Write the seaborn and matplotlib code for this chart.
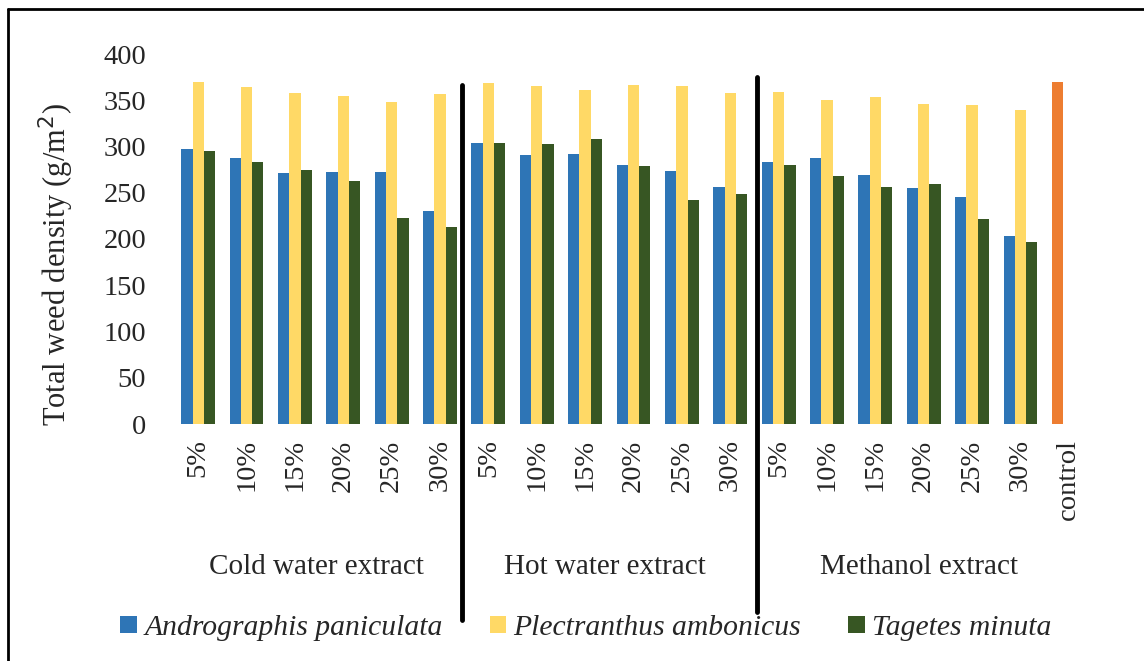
import matplotlib
matplotlib.use("Agg")
import matplotlib.pyplot as plt
import seaborn as sns
import pandas as pd
from matplotlib.patches import Patch
from matplotlib.lines import Line2D

# ---- data ----
groups = ["Cold water extract", "Hot water extract", "Methanol extract"]
levels = ["5%", "10%", "15%", "20%", "25%", "30%"]
species = ["Andrographis paniculata", "Plectranthus ambonicus", "Tagetes minuta"]

andrographis = [297, 288, 271, 272, 272, 230,
                304, 291, 292, 280, 274, 256,
                283, 288, 269, 255, 245, 203]
plectranthus = [370, 364, 358, 355, 348, 357,
                369, 365, 361, 367, 365, 358,
                359, 350, 353, 346, 345, 340]
tagetes = [295, 283, 275, 263, 223, 213,
           304, 303, 308, 279, 242, 249,
           280, 268, 256, 259, 222, 197]
control_value = 370
control_label = "control"

colors = ["#2E75B6", "#FFD966", "#375623"]
control_color = "#ED7D31"

# ---- build long table ----
keys = [f"{g}|{l}" for g in groups for l in levels] + [control_label]
tick_labels = levels * 3 + [control_label]
rows = []
for i, k in enumerate(keys[:-1]):
    rows.append((k, species[0], andrographis[i]))
    rows.append((k, species[1], plectranthus[i]))
    rows.append((k, species[2], tagetes[i]))
rows.append((control_label, species[0], control_value))
df = pd.DataFrame(rows, columns=["cat", "species", "value"])

sns.set_style("white")
plt.rcParams["font.family"] = ["Liberation Serif", "DejaVu Serif"]

fig = plt.figure(figsize=(11.44, 6.61), dpi=100)
ax = fig.add_axes([174 / 1144, 1 - 424 / 661, (1093 - 174) / 1144, 370 / 661])

sns.barplot(data=df, x="cat", y="value", hue="species", order=keys,
            hue_order=species, palette=colors, width=0.7, gap=0,
            legend=False, ax=ax, saturation=1, linewidth=0)
# control bar recolored
ax.containers[0][len(keys) - 1].set_facecolor(control_color)

ax.set_xlim(-0.5, len(keys) - 0.5)
ax.set_ylim(0, 400)
ax.set_yticks(range(0, 401, 50))
ax.set_xticks(range(len(keys)))
ax.set_xticklabels(tick_labels, rotation=90, fontsize=20.5, va="top", ha="center")
ax.tick_params(axis="y", labelsize=20.5, pad=20, length=0)
ax.tick_params(axis="x", pad=11, length=0)
for s in ax.spines.values():
    s.set_visible(False)
ax.set_xlabel("")
ax.set_ylabel("Total weed density (g/m$^2$)", fontsize=22)
ax.yaxis.set_label_coords((76 - 174) / 919, (424 - 265) / 370)

# group labels
for xpos, g in zip([2.45, 8.4, 14.9], groups):
    ax.text(xpos, (424 - 567) / 370, g, transform=ax.get_xaxis_transform(),
            ha="center", va="center", fontsize=21)

# separators
for xpos, y0, y1 in [(5.45, (424 - 620) / 370, (424 - 85) / 370),
                     (11.55, (424 - 612) / 370, (424 - 77) / 370)]:
    ax.plot([xpos, xpos], [y0, y1], color="black", lw=3.5,
            transform=ax.get_xaxis_transform(), clip_on=False)

# legend
handles = [Patch(facecolor=c, edgecolor="none") for c in colors]
leg = fig.legend(handles, species, loc="center", bbox_to_anchor=(586 / 1144, 1 - 628 / 661),
                 ncol=3, frameon=False, handlelength=0.55, handleheight=0.55,
                 handletextpad=0.25, columnspacing=1.6,
                 prop={"family": "Liberation Serif", "style": "italic", "size": 21.3})

# figure border (left and top visible)
fig.add_artist(Line2D([8 / 1144, 8 / 1144], [0, 1 - 9 / 661], color="black", lw=2,
                      transform=fig.transFigure))
fig.add_artist(Line2D([8 / 1144, 1], [1 - 9 / 661, 1 - 9 / 661], color="black", lw=2,
                      transform=fig.transFigure))

fig.savefig("out.png", dpi=100)
